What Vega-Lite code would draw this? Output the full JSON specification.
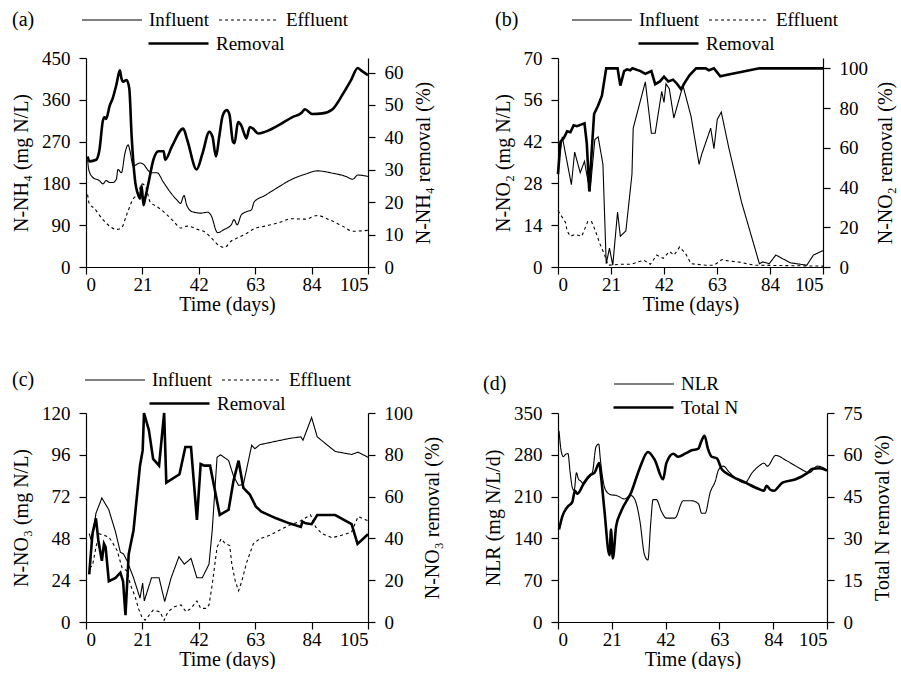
{
  "$schema": "https://vega.github.io/schema/vega-lite/v6.json",
  "padding": {"left": 11, "top": -11, "right": 4, "bottom": 0},
  "bounds": "flush",
  "columns": 2,
  "spacing": {"row": 146, "column": 190},
  "resolve": {"scale": {"strokeDash": "independent", "strokeWidth": "independent"}},
  "config": {
    "font": "Liberation Serif",
    "view": {"stroke": null},
    "axis": {"labelFont": "Liberation Serif", "titleFont": "Liberation Serif", "labelFontSize": 19, "titleFontSize": 20, "titleFontWeight": "normal", "labelColor": "black", "titleColor": "black", "domainColor": "black", "tickColor": "black", "grid": false, "tickSize": 7, "domainWidth": 1.2, "tickWidth": 1.2, "labelPadding": 9, "titlePadding": 10},
    "axisX": {"labelPadding": 1, "titlePadding": 0},
    "legend": {"labelFont": "Liberation Serif", "labelFontSize": 19, "titleFont": "Liberation Serif", "titleFontSize": 20, "titleFontWeight": "normal", "labelColor": "black", "titleColor": "black", "symbolStrokeColor": "black", "symbolType": "stroke", "symbolSize": 3600, "labelOffset": 6, "columnPadding": 6, "titleAnchor": "end", "titleBaseline": "bottom", "titleOrient": "left"},
    "line": {"color": "black"}
  },
  "datasets": {
    "a_conc": [
      {"d":0.6,"v":231,"s":"Influent"},{"d":1,"v":210,"s":"Influent"},{"d":2.5,"v":193,"s":"Influent"},{"d":5,"v":186,"s":"Influent"},{"d":6.3,"v":179,"s":"Influent"},{"d":7.5,"v":186,"s":"Influent"},{"d":8.8,"v":182,"s":"Influent"},{"d":10,"v":182,"s":"Influent"},{"d":11.3,"v":189,"s":"Influent"},{"d":11.9,"v":210,"s":"Influent"},{"d":13.2,"v":203,"s":"Influent"},{"d":14.5,"v":245,"s":"Influent"},{"d":15.7,"v":263,"s":"Influent"},{"d":16.3,"v":252,"s":"Influent"},{"d":17.6,"v":217,"s":"Influent"},{"d":18.9,"v":221,"s":"Influent"},{"d":20.1,"v":224,"s":"Influent"},{"d":21.4,"v":221,"s":"Influent"},{"d":23.3,"v":207,"s":"Influent"},{"d":24.5,"v":203,"s":"Influent"},{"d":26.4,"v":203,"s":"Influent"},{"d":28.9,"v":182,"s":"Influent"},{"d":31.4,"v":161,"s":"Influent"},{"d":33.9,"v":144,"s":"Influent"},{"d":35.2,"v":137,"s":"Influent"},{"d":36.5,"v":154,"s":"Influent"},{"d":37.5,"v":133,"s":"Influent"},{"d":39.6,"v":119,"s":"Influent"},{"d":42.7,"v":116,"s":"Influent"},{"d":45.3,"v":118,"s":"Influent"},{"d":46.5,"v":112,"s":"Influent"},{"d":49,"v":74,"s":"Influent"},{"d":51.5,"v":81,"s":"Influent"},{"d":54.1,"v":91,"s":"Influent"},{"d":55.1,"v":102,"s":"Influent"},{"d":56.3,"v":91,"s":"Influent"},{"d":57.8,"v":112,"s":"Influent"},{"d":59.7,"v":119,"s":"Influent"},{"d":61.6,"v":123,"s":"Influent"},{"d":62.6,"v":140,"s":"Influent"},{"d":66.6,"v":154,"s":"Influent"},{"d":71.6,"v":172,"s":"Influent"},{"d":76.7,"v":189,"s":"Influent"},{"d":81.7,"v":200,"s":"Influent"},{"d":86.1,"v":207,"s":"Influent"},{"d":91.8,"v":202,"s":"Influent"},{"d":96.8,"v":195,"s":"Influent"},{"d":99.3,"v":189,"s":"Influent"},{"d":101.2,"v":198,"s":"Influent"},{"d":105,"v":195,"s":"Influent"},
      {"d":0.6,"v":156,"s":"Effluent"},{"d":1.2,"v":137,"s":"Effluent"},{"d":3.1,"v":126,"s":"Effluent"},{"d":6.3,"v":102,"s":"Effluent"},{"d":8.8,"v":88,"s":"Effluent"},{"d":11.3,"v":81,"s":"Effluent"},{"d":13.2,"v":84,"s":"Effluent"},{"d":15.1,"v":112,"s":"Effluent"},{"d":17.6,"v":147,"s":"Effluent"},{"d":19.5,"v":158,"s":"Effluent"},{"d":20.7,"v":179,"s":"Effluent"},{"d":22,"v":175,"s":"Effluent"},{"d":23.9,"v":140,"s":"Effluent"},{"d":26.4,"v":130,"s":"Effluent"},{"d":29.5,"v":116,"s":"Effluent"},{"d":32.7,"v":98,"s":"Effluent"},{"d":35.2,"v":84,"s":"Effluent"},{"d":37.7,"v":88,"s":"Effluent"},{"d":41.5,"v":81,"s":"Effluent"},{"d":44.6,"v":74,"s":"Effluent"},{"d":47.1,"v":60,"s":"Effluent"},{"d":49.6,"v":46,"s":"Effluent"},{"d":51.5,"v":42,"s":"Effluent"},{"d":54.1,"v":56,"s":"Effluent"},{"d":56.6,"v":63,"s":"Effluent"},{"d":59.1,"v":70,"s":"Effluent"},{"d":62.9,"v":83,"s":"Effluent"},{"d":66.6,"v":88,"s":"Effluent"},{"d":71.6,"v":95,"s":"Effluent"},{"d":76.7,"v":104,"s":"Effluent"},{"d":81.7,"v":103,"s":"Effluent"},{"d":86.1,"v":111,"s":"Effluent"},{"d":90.5,"v":102,"s":"Effluent"},{"d":95.5,"v":88,"s":"Effluent"},{"d":99.3,"v":77,"s":"Effluent"},{"d":105,"v":79,"s":"Effluent"}
    ],
    "a_rem": [
      {"d":0.6,"v":34.1,"s":"Removal"},{"d":1.3,"v":32.6,"s":"Removal"},{"d":3.8,"v":33.1,"s":"Removal"},{"d":5,"v":36.1,"s":"Removal"},{"d":6.3,"v":45.2,"s":"Removal"},{"d":6.9,"v":46.2,"s":"Removal"},{"d":7.5,"v":45.7,"s":"Removal"},{"d":8.8,"v":49.7,"s":"Removal"},{"d":10,"v":52.2,"s":"Removal"},{"d":11.3,"v":56.2,"s":"Removal"},{"d":12.6,"v":60.7,"s":"Removal"},{"d":13.2,"v":58.2,"s":"Removal"},{"d":13.8,"v":57.2,"s":"Removal"},{"d":15.1,"v":57.7,"s":"Removal"},{"d":16.1,"v":55.2,"s":"Removal"},{"d":17,"v":40.2,"s":"Removal"},{"d":18.2,"v":27.1,"s":"Removal"},{"d":19.5,"v":22.1,"s":"Removal"},{"d":20.1,"v":21.1,"s":"Removal"},{"d":20.7,"v":25.1,"s":"Removal"},{"d":21.4,"v":19.1,"s":"Removal"},{"d":22,"v":21.1,"s":"Removal"},{"d":23.3,"v":26.1,"s":"Removal"},{"d":25.1,"v":33.1,"s":"Removal"},{"d":27,"v":35.7,"s":"Removal"},{"d":28.9,"v":35.7,"s":"Removal"},{"d":29.5,"v":33.1,"s":"Removal"},{"d":32,"v":37.2,"s":"Removal"},{"d":36.2,"v":42.7,"s":"Removal"},{"d":37.7,"v":39.2,"s":"Removal"},{"d":41.2,"v":30.1,"s":"Removal"},{"d":43.4,"v":35.1,"s":"Removal"},{"d":45.9,"v":41.7,"s":"Removal"},{"d":47.1,"v":40.2,"s":"Removal"},{"d":48.4,"v":34.1,"s":"Removal"},{"d":49.6,"v":40.2,"s":"Removal"},{"d":50.9,"v":46.7,"s":"Removal"},{"d":52.4,"v":48.4,"s":"Removal"},{"d":53.4,"v":47.1,"s":"Removal"},{"d":54.7,"v":38.7,"s":"Removal"},{"d":55.3,"v":38.2,"s":"Removal"},{"d":56.6,"v":44.7,"s":"Removal"},{"d":57.8,"v":43.7,"s":"Removal"},{"d":59.1,"v":40.7,"s":"Removal"},{"d":59.7,"v":39.7,"s":"Removal"},{"d":61,"v":43.2,"s":"Removal"},{"d":62.2,"v":42.7,"s":"Removal"},{"d":64.1,"v":41.2,"s":"Removal"},{"d":66.6,"v":41.7,"s":"Removal"},{"d":71.6,"v":43.7,"s":"Removal"},{"d":76.7,"v":46.2,"s":"Removal"},{"d":80.4,"v":47.7,"s":"Removal"},{"d":81.5,"v":48.7,"s":"Removal"},{"d":84.2,"v":47.2,"s":"Removal"},{"d":88,"v":47.4,"s":"Removal"},{"d":91.8,"v":48.7,"s":"Removal"},{"d":95.5,"v":53.2,"s":"Removal"},{"d":98.7,"v":57.7,"s":"Removal"},{"d":101.2,"v":61.4,"s":"Removal"},{"d":102.4,"v":60.7,"s":"Removal"},{"d":105,"v":59.2,"s":"Removal"}
    ],
    "b_conc": [
      {"d":0.4,"v":36,"s":"Influent"},{"d":1.7,"v":43.6,"s":"Influent"},{"d":5.3,"v":27.6,"s":"Influent"},{"d":6.6,"v":38.5,"s":"Influent"},{"d":8.8,"v":31.6,"s":"Influent"},{"d":10.5,"v":35.4,"s":"Influent"},{"d":11.4,"v":31,"s":"Influent"},{"d":12.7,"v":25.3,"s":"Influent"},{"d":14.6,"v":42.7,"s":"Influent"},{"d":15.9,"v":43.6,"s":"Influent"},{"d":17.8,"v":34.4,"s":"Influent"},{"d":19.1,"v":1.1,"s":"Influent"},{"d":20.4,"v":6.3,"s":"Influent"},{"d":21.7,"v":0.6,"s":"Influent"},{"d":23.6,"v":18.4,"s":"Influent"},{"d":24.7,"v":10.3,"s":"Influent"},{"d":26.9,"v":12.1,"s":"Influent"},{"d":29.3,"v":31,"s":"Influent"},{"d":29.8,"v":46.5,"s":"Influent"},{"d":34.6,"v":62,"s":"Influent"},{"d":37,"v":44.8,"s":"Influent"},{"d":38.5,"v":44.8,"s":"Influent"},{"d":41.1,"v":58.8,"s":"Influent"},{"d":42,"v":55.1,"s":"Influent"},{"d":42.8,"v":61.4,"s":"Influent"},{"d":44.1,"v":59.7,"s":"Influent"},{"d":45.9,"v":49.9,"s":"Influent"},{"d":49.5,"v":60.8,"s":"Influent"},{"d":52.7,"v":50.5,"s":"Influent"},{"d":55.9,"v":34.4,"s":"Influent"},{"d":57,"v":37.9,"s":"Influent"},{"d":60.5,"v":46.5,"s":"Influent"},{"d":61.8,"v":39.6,"s":"Influent"},{"d":63.1,"v":49.4,"s":"Influent"},{"d":64.7,"v":51.9,"s":"Influent"},{"d":67.6,"v":40.2,"s":"Influent"},{"d":72.7,"v":21.8,"s":"Influent"},{"d":79.8,"v":1.1,"s":"Influent"},{"d":81.1,"v":1.7,"s":"Influent"},{"d":83.7,"v":1.1,"s":"Influent"},{"d":86.3,"v":4,"s":"Influent"},{"d":92.1,"v":1.4,"s":"Influent"},{"d":98.6,"v":0.6,"s":"Influent"},{"d":101.2,"v":4,"s":"Influent"},{"d":105,"v":5.5,"s":"Influent"},
      {"d":0,"v":18.9,"s":"Effluent"},{"d":3,"v":14.9,"s":"Effluent"},{"d":3.6,"v":12.1,"s":"Effluent"},{"d":4.9,"v":10.3,"s":"Effluent"},{"d":6.8,"v":10.9,"s":"Effluent"},{"d":9.4,"v":10.3,"s":"Effluent"},{"d":11.8,"v":15.2,"s":"Effluent"},{"d":13.3,"v":15.2,"s":"Effluent"},{"d":14.6,"v":12.6,"s":"Effluent"},{"d":16.5,"v":8,"s":"Effluent"},{"d":18.5,"v":4,"s":"Effluent"},{"d":19.8,"v":0.6,"s":"Effluent"},{"d":24.9,"v":0.9,"s":"Effluent"},{"d":28.8,"v":0.9,"s":"Effluent"},{"d":34,"v":2.3,"s":"Effluent"},{"d":36.6,"v":0.9,"s":"Effluent"},{"d":39.1,"v":4,"s":"Effluent"},{"d":41.7,"v":2.9,"s":"Effluent"},{"d":44.1,"v":5.2,"s":"Effluent"},{"d":46,"v":4,"s":"Effluent"},{"d":48.2,"v":6.7,"s":"Effluent"},{"d":50.5,"v":4.6,"s":"Effluent"},{"d":52.7,"v":1.1,"s":"Effluent"},{"d":58.5,"v":0.6,"s":"Effluent"},{"d":61.8,"v":0.6,"s":"Effluent"},{"d":65,"v":2.5,"s":"Effluent"},{"d":67.6,"v":2,"s":"Effluent"},{"d":71.4,"v":1.7,"s":"Effluent"},{"d":77.9,"v":0.6,"s":"Effluent"},{"d":105,"v":0.3,"s":"Effluent"}
    ],
    "b_rem": [
      {"d":0,"v":46.7,"s":"Removal"},{"d":1,"v":63.1,"s":"Removal"},{"d":2.3,"v":64.9,"s":"Removal"},{"d":3.6,"v":68.3,"s":"Removal"},{"d":4.9,"v":67.8,"s":"Removal"},{"d":6.2,"v":71.3,"s":"Removal"},{"d":7.5,"v":70.9,"s":"Removal"},{"d":9.4,"v":71.8,"s":"Removal"},{"d":10.5,"v":72.3,"s":"Removal"},{"d":11.4,"v":62.3,"s":"Removal"},{"d":12.4,"v":38.1,"s":"Removal"},{"d":13.3,"v":57.1,"s":"Removal"},{"d":14.3,"v":77,"s":"Removal"},{"d":15.9,"v":81.3,"s":"Removal"},{"d":17.4,"v":86.2,"s":"Removal"},{"d":19.1,"v":100,"s":"Removal"},{"d":23.6,"v":100,"s":"Removal"},{"d":24.7,"v":91.3,"s":"Removal"},{"d":26.2,"v":98.6,"s":"Removal"},{"d":27.3,"v":99.5,"s":"Removal"},{"d":28.6,"v":99,"s":"Removal"},{"d":29.5,"v":100,"s":"Removal"},{"d":32.7,"v":98.6,"s":"Removal"},{"d":34.6,"v":97.2,"s":"Removal"},{"d":37,"v":98.6,"s":"Removal"},{"d":38.5,"v":92,"s":"Removal"},{"d":40.4,"v":93.4,"s":"Removal"},{"d":42,"v":95.8,"s":"Removal"},{"d":43.7,"v":93.4,"s":"Removal"},{"d":45.6,"v":94.3,"s":"Removal"},{"d":46.9,"v":92.6,"s":"Removal"},{"d":48.8,"v":89.4,"s":"Removal"},{"d":50.1,"v":92.6,"s":"Removal"},{"d":52.1,"v":96.5,"s":"Removal"},{"d":54.7,"v":100,"s":"Removal"},{"d":58.5,"v":100,"s":"Removal"},{"d":59.8,"v":99,"s":"Removal"},{"d":61.8,"v":100,"s":"Removal"},{"d":64.3,"v":96,"s":"Removal"},{"d":67.6,"v":96.9,"s":"Removal"},{"d":79.8,"v":100,"s":"Removal"},{"d":105,"v":100,"s":"Removal"}
    ],
    "c_conc": [
      {"d":1.2,"v":50.7,"s":"Influent"},{"d":2.2,"v":45.8,"s":"Influent"},{"d":3.7,"v":62.4,"s":"Influent"},{"d":5.9,"v":71.2,"s":"Influent"},{"d":8.5,"v":64.4,"s":"Influent"},{"d":11,"v":51.7,"s":"Influent"},{"d":12.8,"v":40,"s":"Influent"},{"d":14,"v":39,"s":"Influent"},{"d":15.3,"v":35.1,"s":"Influent"},{"d":17.7,"v":25.4,"s":"Influent"},{"d":20.1,"v":13.7,"s":"Influent"},{"d":21.1,"v":22.4,"s":"Influent"},{"d":21.7,"v":12.1,"s":"Influent"},{"d":24.4,"v":25.4,"s":"Influent"},{"d":27.2,"v":25.4,"s":"Influent"},{"d":29.3,"v":11.7,"s":"Influent"},{"d":31.7,"v":25.4,"s":"Influent"},{"d":34.6,"v":37.5,"s":"Influent"},{"d":36.6,"v":33.2,"s":"Influent"},{"d":39.1,"v":36.5,"s":"Influent"},{"d":41.3,"v":25.4,"s":"Influent"},{"d":43.3,"v":25.4,"s":"Influent"},{"d":45.8,"v":33.2,"s":"Influent"},{"d":47,"v":52.7,"s":"Influent"},{"d":48.8,"v":94.6,"s":"Influent"},{"d":50.1,"v":96,"s":"Influent"},{"d":53.1,"v":92.7,"s":"Influent"},{"d":54.9,"v":83.9,"s":"Influent"},{"d":56.8,"v":78.4,"s":"Influent"},{"d":58.6,"v":79,"s":"Influent"},{"d":61.7,"v":101.5,"s":"Influent"},{"d":62.9,"v":99.5,"s":"Influent"},{"d":64.7,"v":101.8,"s":"Influent"},{"d":70.8,"v":103.8,"s":"Influent"},{"d":75.7,"v":105.4,"s":"Influent"},{"d":80,"v":106.3,"s":"Influent"},{"d":80.8,"v":104.4,"s":"Influent"},{"d":84,"v":117.4,"s":"Influent"},{"d":86.1,"v":106.3,"s":"Influent"},{"d":92.8,"v":97.9,"s":"Influent"},{"d":98.9,"v":96.2,"s":"Influent"},{"d":101.3,"v":97.5,"s":"Influent"},{"d":105,"v":94.6,"s":"Influent"},
      {"d":1.2,"v":31.2,"s":"Effluent"},{"d":2.4,"v":32.2,"s":"Effluent"},{"d":3.7,"v":42.9,"s":"Effluent"},{"d":4.9,"v":50.7,"s":"Effluent"},{"d":6.7,"v":49.8,"s":"Effluent"},{"d":8.5,"v":48.8,"s":"Effluent"},{"d":9.8,"v":45.8,"s":"Effluent"},{"d":11.6,"v":41,"s":"Effluent"},{"d":13.4,"v":31.2,"s":"Effluent"},{"d":15.3,"v":29.3,"s":"Effluent"},{"d":16.5,"v":21.5,"s":"Effluent"},{"d":18.3,"v":14.6,"s":"Effluent"},{"d":19.5,"v":7.8,"s":"Effluent"},{"d":20.8,"v":2.9,"s":"Effluent"},{"d":22,"v":1,"s":"Effluent"},{"d":25,"v":6.8,"s":"Effluent"},{"d":27.5,"v":5.9,"s":"Effluent"},{"d":29.1,"v":1,"s":"Effluent"},{"d":30.5,"v":5.9,"s":"Effluent"},{"d":33,"v":8.8,"s":"Effluent"},{"d":35.4,"v":9.8,"s":"Effluent"},{"d":37.2,"v":5.9,"s":"Effluent"},{"d":39.1,"v":7.8,"s":"Effluent"},{"d":41.3,"v":12.1,"s":"Effluent"},{"d":42.7,"v":7.8,"s":"Effluent"},{"d":44.6,"v":7.8,"s":"Effluent"},{"d":45.8,"v":9.8,"s":"Effluent"},{"d":47,"v":21.5,"s":"Effluent"},{"d":48.8,"v":42.9,"s":"Effluent"},{"d":50.3,"v":47.8,"s":"Effluent"},{"d":51.9,"v":44.9,"s":"Effluent"},{"d":53.5,"v":43.9,"s":"Effluent"},{"d":54.3,"v":33.2,"s":"Effluent"},{"d":55.6,"v":23.4,"s":"Effluent"},{"d":56.8,"v":17.9,"s":"Effluent"},{"d":58,"v":23.4,"s":"Effluent"},{"d":59.8,"v":34.1,"s":"Effluent"},{"d":62.3,"v":44.9,"s":"Effluent"},{"d":64.7,"v":47.8,"s":"Effluent"},{"d":68.4,"v":49.8,"s":"Effluent"},{"d":72,"v":52.7,"s":"Effluent"},{"d":75.7,"v":55.6,"s":"Effluent"},{"d":79.4,"v":57.6,"s":"Effluent"},{"d":83.6,"v":61.5,"s":"Effluent"},{"d":85.5,"v":54.6,"s":"Effluent"},{"d":87.9,"v":50.7,"s":"Effluent"},{"d":91.6,"v":48.4,"s":"Effluent"},{"d":95.2,"v":49.8,"s":"Effluent"},{"d":98.9,"v":51.7,"s":"Effluent"},{"d":101.3,"v":60.5,"s":"Effluent"},{"d":105,"v":58.1,"s":"Effluent"}
    ],
    "c_rem": [
      {"d":1.2,"v":22.8,"s":"Removal"},{"d":2.4,"v":42.3,"s":"Removal"},{"d":3.7,"v":49.6,"s":"Removal"},{"d":4.6,"v":39,"s":"Removal"},{"d":5.9,"v":29.3,"s":"Removal"},{"d":6.7,"v":37.4,"s":"Removal"},{"d":7.3,"v":35.8,"s":"Removal"},{"d":8.5,"v":19.5,"s":"Removal"},{"d":11,"v":21.1,"s":"Removal"},{"d":12.8,"v":23.6,"s":"Removal"},{"d":13.8,"v":19.5,"s":"Removal"},{"d":14.7,"v":3.3,"s":"Removal"},{"d":15.9,"v":32.5,"s":"Removal"},{"d":17.7,"v":43.9,"s":"Removal"},{"d":20.1,"v":74.8,"s":"Removal"},{"d":21.1,"v":82.1,"s":"Removal"},{"d":21.6,"v":100,"s":"Removal"},{"d":23.4,"v":91.9,"s":"Removal"},{"d":25,"v":78,"s":"Removal"},{"d":27.2,"v":74.8,"s":"Removal"},{"d":29.1,"v":100,"s":"Removal"},{"d":29.9,"v":66.7,"s":"Removal"},{"d":34.8,"v":70.7,"s":"Removal"},{"d":37,"v":83.7,"s":"Removal"},{"d":39.1,"v":83.7,"s":"Removal"},{"d":41.3,"v":48.8,"s":"Removal"},{"d":42.7,"v":75.6,"s":"Removal"},{"d":44,"v":74.8,"s":"Removal"},{"d":46.2,"v":74.8,"s":"Removal"},{"d":49.8,"v":51.2,"s":"Removal"},{"d":53.1,"v":53.7,"s":"Removal"},{"d":54.9,"v":67.5,"s":"Removal"},{"d":56.8,"v":77.2,"s":"Removal"},{"d":58.6,"v":64.2,"s":"Removal"},{"d":61,"v":61,"s":"Removal"},{"d":63.2,"v":55.3,"s":"Removal"},{"d":65.3,"v":52.8,"s":"Removal"},{"d":70.8,"v":49.6,"s":"Removal"},{"d":75.7,"v":47.2,"s":"Removal"},{"d":80,"v":45.5,"s":"Removal"},{"d":80.6,"v":48,"s":"Removal"},{"d":81.8,"v":47.2,"s":"Removal"},{"d":84,"v":46.8,"s":"Removal"},{"d":86.1,"v":51.2,"s":"Removal"},{"d":92.8,"v":51.2,"s":"Removal"},{"d":98.9,"v":46.8,"s":"Removal"},{"d":101.1,"v":37.4,"s":"Removal"},{"d":105,"v":42,"s":"Removal"}
    ],
    "d_nlr": [
      {"d":0.4,"v":320,"s":"NLR"},{"d":1.3,"v":285,"s":"NLR"},{"d":2.1,"v":277,"s":"NLR"},{"d":3,"v":281,"s":"NLR"},{"d":3.9,"v":282,"s":"NLR"},{"d":4.7,"v":252,"s":"NLR"},{"d":5.6,"v":225,"s":"NLR"},{"d":6.3,"v":220,"s":"NLR"},{"d":7.2,"v":250,"s":"NLR"},{"d":8,"v":239,"s":"NLR"},{"d":8.9,"v":236,"s":"NLR"},{"d":10,"v":231,"s":"NLR"},{"d":11.5,"v":239,"s":"NLR"},{"d":13.5,"v":252,"s":"NLR"},{"d":14.8,"v":293,"s":"NLR"},{"d":15.9,"v":298,"s":"NLR"},{"d":16.5,"v":274,"s":"NLR"},{"d":17.4,"v":242,"s":"NLR"},{"d":18.7,"v":220,"s":"NLR"},{"d":20.7,"v":213,"s":"NLR"},{"d":22.7,"v":212,"s":"NLR"},{"d":26,"v":206,"s":"NLR"},{"d":28.3,"v":212,"s":"NLR"},{"d":29.9,"v":206,"s":"NLR"},{"d":31.9,"v":171,"s":"NLR"},{"d":33.8,"v":112,"s":"NLR"},{"d":35.1,"v":104,"s":"NLR"},{"d":36.2,"v":166,"s":"NLR"},{"d":37.1,"v":205,"s":"NLR"},{"d":38.4,"v":205,"s":"NLR"},{"d":40.4,"v":185,"s":"NLR"},{"d":42.3,"v":174,"s":"NLR"},{"d":45.6,"v":174,"s":"NLR"},{"d":48.9,"v":203,"s":"NLR"},{"d":52.2,"v":203,"s":"NLR"},{"d":54.8,"v":198,"s":"NLR"},{"d":56.1,"v":182,"s":"NLR"},{"d":57.4,"v":182,"s":"NLR"},{"d":59.4,"v":217,"s":"NLR"},{"d":61.4,"v":236,"s":"NLR"},{"d":62.7,"v":255,"s":"NLR"},{"d":64.6,"v":261,"s":"NLR"},{"d":66.6,"v":252,"s":"NLR"},{"d":69.9,"v":239,"s":"NLR"},{"d":72.9,"v":233,"s":"NLR"},{"d":75.8,"v":250,"s":"NLR"},{"d":78.4,"v":261,"s":"NLR"},{"d":80.4,"v":266,"s":"NLR"},{"d":81.7,"v":261,"s":"NLR"},{"d":85,"v":279,"s":"NLR"},{"d":88.9,"v":271,"s":"NLR"},{"d":94.1,"v":258,"s":"NLR"},{"d":98.1,"v":250,"s":"NLR"},{"d":101.3,"v":261,"s":"NLR"},{"d":105,"v":255,"s":"NLR"}
    ],
    "d_tn": [
      {"d":0.4,"v":33.2,"s":"Total N"},{"d":1.7,"v":37.9,"s":"Total N"},{"d":3.7,"v":41.3,"s":"Total N"},{"d":5.6,"v":43.1,"s":"Total N"},{"d":6.6,"v":47.1,"s":"Total N"},{"d":7.6,"v":46,"s":"Total N"},{"d":10.2,"v":50,"s":"Total N"},{"d":12.8,"v":52.9,"s":"Total N"},{"d":14.2,"v":53.5,"s":"Total N"},{"d":16.1,"v":57,"s":"Total N"},{"d":16.8,"v":52.3,"s":"Total N"},{"d":18.1,"v":40.2,"s":"Total N"},{"d":20.1,"v":24,"s":"Total N"},{"d":20.7,"v":33.2,"s":"Total N"},{"d":21.4,"v":22.8,"s":"Total N"},{"d":22.7,"v":34.4,"s":"Total N"},{"d":24.6,"v":39.6,"s":"Total N"},{"d":28.6,"v":46.6,"s":"Total N"},{"d":31.9,"v":55.2,"s":"Total N"},{"d":35.1,"v":61,"s":"Total N"},{"d":37.8,"v":58.1,"s":"Total N"},{"d":41,"v":51.2,"s":"Total N"},{"d":42.3,"v":57,"s":"Total N"},{"d":45,"v":60.4,"s":"Total N"},{"d":46.9,"v":59.3,"s":"Total N"},{"d":49.6,"v":60.4,"s":"Total N"},{"d":52.2,"v":61.6,"s":"Total N"},{"d":54.8,"v":62.2,"s":"Total N"},{"d":55.8,"v":64.5,"s":"Total N"},{"d":57.2,"v":66.8,"s":"Total N"},{"d":58.5,"v":62.2,"s":"Total N"},{"d":60,"v":59.3,"s":"Total N"},{"d":62,"v":58.7,"s":"Total N"},{"d":64,"v":54.7,"s":"Total N"},{"d":67.9,"v":52.3,"s":"Total N"},{"d":73.2,"v":50,"s":"Total N"},{"d":78.4,"v":47.7,"s":"Total N"},{"d":80.4,"v":47.1,"s":"Total N"},{"d":81.4,"v":48.9,"s":"Total N"},{"d":83,"v":47.4,"s":"Total N"},{"d":84.3,"v":47.1,"s":"Total N"},{"d":87.6,"v":50,"s":"Total N"},{"d":92.8,"v":51.2,"s":"Total N"},{"d":97.4,"v":53.5,"s":"Total N"},{"d":99.4,"v":55,"s":"Total N"},{"d":102,"v":55.2,"s":"Total N"},{"d":105,"v":54.3,"s":"Total N"}
    ]
  },
  "concat": [
    {
      "width": 282, "height": 209,
      "layer": [
        {"data": {"name": "a_conc"}, "mark": {"type": "line", "strokeWidth": 1.1, "interpolate": "monotone"},
         "encoding": {
           "x": {"field": "d", "type": "quantitative", "scale": {"domain": [0, 105], "nice": false}, "axis": {"values": [0, 21, 42, 63, 84, 105], "title": "Time (days)"}},
           "y": {"field": "v", "type": "quantitative", "scale": {"domain": [0, 450], "nice": false}, "axis": {"values": [0, 90, 180, 270, 360, 450], "title": "N-NH₄ (mg N/L)"}},
           "strokeDash": {"field": "s", "type": "nominal", "scale": {"domain": ["Influent", "Effluent"], "range": [[1, 0], [3, 3]]},
             "legend": {"orient": "none", "legendX": -74, "legendY": -69, "direction": "horizontal", "title": "(a)", "titlePadding": 46, "symbolStrokeWidth": 1.2}}
         }},
        {"data": {"name": "a_rem"}, "mark": {"type": "line", "interpolate": "monotone"},
         "encoding": {
           "x": {"field": "d", "type": "quantitative", "scale": {"domain": [0, 105], "nice": false}, "axis": {"values": [0, 21, 42, 63, 84, 105], "title": "Time (days)"}},
           "y": {"field": "v", "type": "quantitative", "scale": {"domain": [0, 64.5], "nice": false}, "axis": {"orient": "right", "values": [0, 10, 20, 30, 40, 50, 60], "title": "N-NH₄ removal (%)", "titleAngle": 270, "titleBaseline": "top"}},
           "strokeWidth": {"field": "s", "type": "nominal", "scale": {"domain": ["Removal"], "range": [2.6, 2.6]},
             "legend": {"orient": "none", "legendX": 61, "legendY": -46, "title": null}}
         }}
      ],
      "resolve": {"scale": {"y": "independent"}}
    },
    {
      "width": 265, "height": 209,
      "layer": [
        {"data": {"name": "b_conc"}, "mark": {"type": "line", "strokeWidth": 1.1},
         "encoding": {
           "x": {"field": "d", "type": "quantitative", "scale": {"domain": [0, 105], "nice": false}, "axis": {"values": [0, 21, 42, 63, 84, 105], "title": "Time (days)"}},
           "y": {"field": "v", "type": "quantitative", "scale": {"domain": [0, 70], "nice": false}, "axis": {"values": [0, 14, 28, 42, 56, 70], "title": "N-NO₂ (mg N/L)"}},
           "strokeDash": {"field": "s", "type": "nominal", "scale": {"domain": ["Influent", "Effluent"], "range": [[1, 0], [3, 3]]},
             "legend": {"orient": "none", "legendX": -63, "legendY": -69, "direction": "horizontal", "title": "(b)", "titlePadding": 52, "symbolStrokeWidth": 1.2}}
         }},
        {"data": {"name": "b_rem"}, "mark": {"type": "line"},
         "encoding": {
           "x": {"field": "d", "type": "quantitative", "scale": {"domain": [0, 105], "nice": false}, "axis": {"values": [0, 21, 42, 63, 84, 105], "title": "Time (days)"}},
           "y": {"field": "v", "type": "quantitative", "scale": {"domain": [0, 105.2], "nice": false}, "axis": {"orient": "right", "values": [0, 20, 40, 60, 80, 100], "title": "N-NO₂ removal (%)", "titleAngle": 270, "titleBaseline": "top", "titlePadding": 8}},
           "strokeWidth": {"field": "s", "type": "nominal", "scale": {"domain": ["Removal"], "range": [2.6, 2.6]},
             "legend": {"orient": "none", "legendX": 79, "legendY": -46, "title": null}}
         }}
      ],
      "resolve": {"scale": {"y": "independent"}}
    },
    {
      "width": 282, "height": 209,
      "layer": [
        {"data": {"name": "c_conc"}, "mark": {"type": "line", "strokeWidth": 1.1},
         "encoding": {
           "x": {"field": "d", "type": "quantitative", "scale": {"domain": [0, 105], "nice": false}, "axis": {"values": [0, 21, 42, 63, 84, 105], "title": "Time (days)"}},
           "y": {"field": "v", "type": "quantitative", "scale": {"domain": [0, 120], "nice": false}, "axis": {"values": [0, 24, 48, 72, 96, 120], "title": "N-NO₃ (mg N/L)"}},
           "strokeDash": {"field": "s", "type": "nominal", "scale": {"domain": ["Influent", "Effluent"], "range": [[1, 0], [3, 3]]},
             "legend": {"orient": "none", "legendX": -74, "legendY": -64, "direction": "horizontal", "title": "(c)", "titlePadding": 49, "symbolStrokeWidth": 1.2}}
         }},
        {"data": {"name": "c_rem"}, "mark": {"type": "line"},
         "encoding": {
           "x": {"field": "d", "type": "quantitative", "scale": {"domain": [0, 105], "nice": false}, "axis": {"values": [0, 21, 42, 63, 84, 105], "title": "Time (days)"}},
           "y": {"field": "v", "type": "quantitative", "scale": {"domain": [0, 100], "nice": false}, "axis": {"orient": "right", "values": [0, 20, 40, 60, 80, 100], "title": "N-NO₃ removal (%)", "titleAngle": 270, "titleBaseline": "top"}},
           "strokeWidth": {"field": "s", "type": "nominal", "scale": {"domain": ["Removal"], "range": [2.6, 2.6]},
             "legend": {"orient": "none", "legendX": 62, "legendY": -41, "title": null}}
         }}
      ],
      "resolve": {"scale": {"y": "independent"}}
    },
    {
      "width": 269, "height": 209,
      "layer": [
        {"data": {"name": "d_nlr"}, "mark": {"type": "line", "strokeWidth": 1.1, "interpolate": "monotone"},
         "encoding": {
           "x": {"field": "d", "type": "quantitative", "scale": {"domain": [0, 105], "nice": false}, "axis": {"values": [0, 21, 42, 63, 84, 105], "title": "Time (days)"}},
           "y": {"field": "v", "type": "quantitative", "scale": {"domain": [0, 350], "nice": false}, "axis": {"values": [0, 70, 140, 210, 280, 350], "title": "NLR (mg N/L/d)"}},
           "strokeDash": {"field": "s", "type": "nominal", "scale": {"domain": ["NLR"], "range": [[1, 0]]},
             "legend": {"orient": "none", "legendX": -75, "legendY": -60, "direction": "horizontal", "title": "(d)", "titlePadding": 106, "symbolStrokeWidth": 1.2}}
         }},
        {"data": {"name": "d_tn"}, "mark": {"type": "line", "interpolate": "monotone"},
         "encoding": {
           "x": {"field": "d", "type": "quantitative", "scale": {"domain": [0, 105], "nice": false}, "axis": {"values": [0, 21, 42, 63, 84, 105], "title": "Time (days)"}},
           "y": {"field": "v", "type": "quantitative", "scale": {"domain": [0, 75], "nice": false}, "axis": {"orient": "right", "values": [0, 15, 30, 45, 60, 75], "title": "Total N removal (%)", "titleAngle": 270, "titleBaseline": "top"}},
           "strokeWidth": {"field": "s", "type": "nominal", "scale": {"domain": ["Total N"], "range": [2.6, 2.6]},
             "legend": {"orient": "none", "legendX": 54, "legendY": -37, "title": null}}
         }}
      ],
      "resolve": {"scale": {"y": "independent"}}
    }
  ]
}
